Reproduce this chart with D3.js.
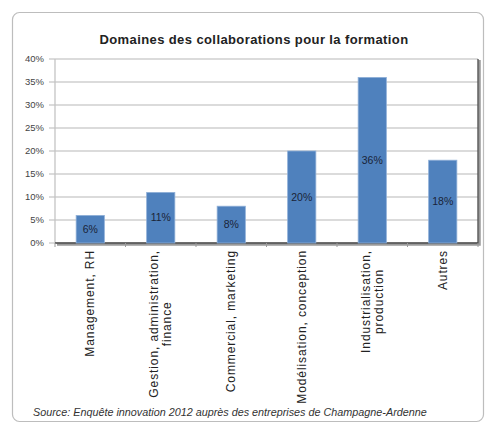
<!DOCTYPE html>
<html>
<head>
<meta charset="utf-8">
<script src="https://cdn.jsdelivr.net/npm/d3@7"></script>
<style>
    body { margin: 0; background: #fff; }
    svg { display: block; font-family: "Liberation Sans", Arial, sans-serif; }
</style>
</head>
<body>
<script>
(function() {
    'use strict';

    let categories = [
        ["Management, RH"],
        ["Gestion, administration,", "finance"],
        ["Commercial, marketing"],
        ["Modélisation, conception"],
        ["Industrialisation,", "production"],
        ["Autres"]
    ];
    let values = [6, 11, 8, 20, 36, 18];
    let yTicks = [0, 5, 10, 15, 20, 25, 30, 35, 40];
    let title = "Domaines des collaborations pour la formation";
    let source = "Source: Enquête innovation 2012 auprès des entreprises de Champagne-Ardenne";

    let width = 486, height = 426;
    let plot = { left: 55, top: 59, right: 478, bottom: 243 };

    let svg = d3.select("body").append("svg")
        .attr("width", width)
        .attr("height", height);

    // outer frame
    svg.append("rect")
        .attr("x", 12.5).attr("y", 12.5)
        .attr("width", 471).attr("height", 409)
        .attr("rx", 7)
        .attr("fill", "#fff")
        .attr("stroke", "#bdbdbd")
        .attr("stroke-width", 1.2);

    let x = d3.scaleBand()
        .domain(d3.range(categories.length))
        .range([plot.left, plot.right])
        .paddingInner(0.6)
        .paddingOuter(0.3);

    let y = d3.scaleLinear()
        .domain([0, 40])
        .range([plot.bottom, plot.top]);

    // gridlines
    svg.append("g")
        .selectAll("line")
        .data(yTicks)
        .enter()
        .append("line")
        .attr("x1", plot.left - 6)
        .attr("x2", plot.right)
        .attr("y1", function(d) { return y(d); })
        .attr("y2", function(d) { return y(d); })
        .attr("stroke", "#cfcfcf")
        .attr("stroke-width", 1.3);

    // left border of plot area
    svg.append("line")
        .attr("x1", plot.left).attr("x2", plot.left)
        .attr("y1", plot.top).attr("y2", plot.bottom)
        .attr("stroke", "#c4c4c4")
        .attr("stroke-width", 1.3);

    // shadowed right and bottom edges
    svg.append("path")
        .attr("d", "M" + (plot.right + 1.5) + "," + (plot.top + 1) +
              "V" + (plot.bottom + 1.5) + "H" + (plot.left + 2))
        .attr("fill", "none")
        .attr("stroke", "#9a9a9a")
        .attr("stroke-width", 2.5);
    svg.append("path")
        .attr("d", "M" + plot.right + "," + plot.top +
              "V" + plot.bottom + "H" + plot.left)
        .attr("fill", "none")
        .attr("stroke", "#4a4a4a")
        .attr("stroke-width", 1.3);

    // y tick labels
    svg.append("g")
        .selectAll("text")
        .data(yTicks)
        .enter()
        .append("text")
        .attr("x", 44)
        .attr("y", function(d) { return y(d); })
        .attr("dy", "0.35em")
        .attr("text-anchor", "end")
        .attr("font-size", 9.5)
        .attr("fill", "#444")
        .text(function(d) { return d + "%"; });

    // x category ticks
    svg.append("g")
        .selectAll("line")
        .data(d3.range(categories.length + 1))
        .enter()
        .append("line")
        .attr("x1", function(i) { return plot.left + i * (plot.right - plot.left) / categories.length; })
        .attr("x2", function(i) { return plot.left + i * (plot.right - plot.left) / categories.length; })
        .attr("y1", plot.bottom)
        .attr("y2", plot.bottom + 4)
        .attr("stroke", "#999")
        .attr("stroke-width", 1);

    // bars
    svg.append("g")
        .selectAll("rect")
        .data(values)
        .enter()
        .append("rect")
        .attr("x", function(d, i) { return x(i); })
        .attr("y", function(d) { return y(d); })
        .attr("width", x.bandwidth())
        .attr("height", function(d) { return plot.bottom - y(d); })
        .attr("fill", "#4f81bd")
        .attr("stroke", "#8fb0d8")
        .attr("stroke-width", 0.8);

    // value labels
    svg.append("g")
        .selectAll("text")
        .data(values)
        .enter()
        .append("text")
        .attr("x", function(d, i) { return x(i) + x.bandwidth() / 2; })
        .attr("y", function(d) { return (y(d) + plot.bottom) / 2; })
        .attr("dy", "0.35em")
        .attr("text-anchor", "middle")
        .attr("font-size", 10.5)
        .attr("fill", "#1a2438")
        .text(function(d) { return d + "%"; });

    // category labels, rotated, lines centred, block hanging from the axis
    let lineGap = 13;
    categories.forEach(function(lines, i) {
        let cx = x(i) + x.bandwidth() / 2;
        let g = svg.append("g");
        let texts = lines.map(function(t) {
            return g.append("text")
                .attr("font-size", 12)
                .attr("letter-spacing", 0.9)
                .attr("fill", "#222")
                .attr("text-anchor", "middle")
                .text(t);
        });
        let maxLen = d3.max(texts, function(t) { return t.node().getComputedTextLength(); });
        let top = plot.bottom + 7;
        let cy = top + maxLen / 2;
        texts.forEach(function(t, j) {
            let lx = cx + (j - (lines.length - 1) / 2) * lineGap + 4;
            t.attr("transform", "translate(" + lx + "," + cy + ")rotate(-90)");
        });
    });

    // title
    svg.append("text")
        .attr("x", 254)
        .attr("y", 44)
        .attr("text-anchor", "middle")
        .attr("font-size", 13)
        .attr("font-weight", "bold")
        .attr("letter-spacing", 0.4)
        .attr("fill", "#222")
        .text(title);

    // source
    svg.append("text")
        .attr("x", 33)
        .attr("y", 416)
        .attr("font-size", 10.8)
        .attr("font-style", "italic")
        .attr("fill", "#333")
        .text(source);
})();
</script>
</body>
</html>
